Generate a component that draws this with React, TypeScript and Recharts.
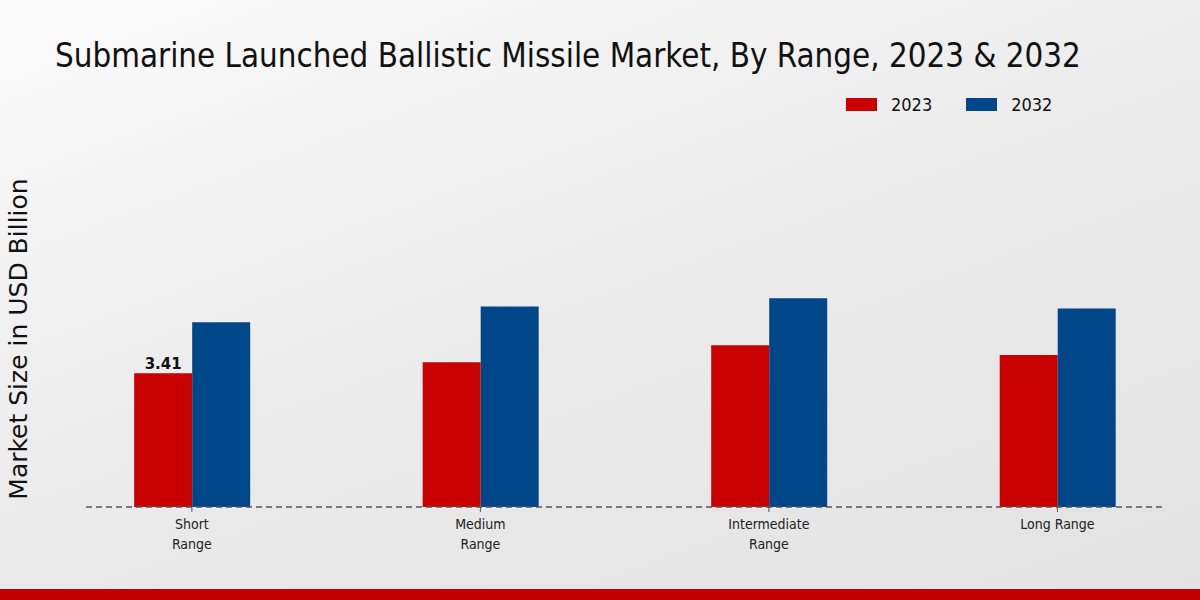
import React from "react";
import { BarChart, Bar, XAxis, YAxis, LabelList } from "recharts";

const categories = ["Short Range", "Medium Range", "Intermediate Range", "Long Range"];
const tickLines = [["Short", "Range"], ["Medium", "Range"], ["Intermediate", "Range"], ["Long Range"]];
const seriesNames = ["2023", "2032"];
const values2023 = [3.41, 3.69, 4.12, 3.87];
const values2032 = [4.71, 5.11, 5.32, 5.06];
const labels2023 = ["3.41", "", "", ""];

const data = categories.map((c, i) => ({
  idx: i,
  name: c,
  v2023: values2023[i],
  v2032: values2032[i],
  label: labels2023[i],
}));

const RED = "#c80000";
const BLUE = "#00478a";
const COND = "'DejaVu Sans Condensed', 'DejaVu Sans', sans-serif";

const Tick = (props: any) => {
  const { x, y, payload } = props;
  const lines = tickLines[payload.value] || [];
  return (
    <g transform={`translate(${x},${y})`}>
      <text textAnchor="middle" fill="#222" fontSize={14} fontFamily={COND}>
        {lines.map((l: string, i: number) => (
          <tspan key={i} x={0} dy={i === 0 ? 15 : 20}>{l}</tspan>
        ))}
      </text>
    </g>
  );
};

export default function App() {
  return (
    <div
      style={{
        position: "absolute",
        left: 0,
        top: 0,
        width: 1200,
        height: 600,
        overflow: "hidden",
        background: "linear-gradient(160deg, #fbfbfb 0%, #ececec 45%, #e2e2e2 100%)",
      }}
    >
      <div
        style={{
          position: "absolute",
          left: 55,
          top: 40,
          fontFamily: COND,
          fontSize: 32.8,
          color: "#111",
          whiteSpace: "nowrap",
          lineHeight: 1,
        }}
      >
        Submarine Launched Ballistic Missile Market, By Range, 2023 &amp; 2032
      </div>
      <div
        style={{
          position: "absolute",
          left: 846,
          top: 94,
          display: "flex",
          alignItems: "center",
          fontFamily: COND,
          fontSize: 18,
          color: "#111",
          whiteSpace: "nowrap",
        }}
      >
        <span style={{ display: "inline-block", width: 31, height: 13, background: RED, marginRight: 14 }} />
        <span style={{ marginRight: 34 }}>{seriesNames[0]}</span>
        <span style={{ display: "inline-block", width: 31, height: 13, background: BLUE, marginRight: 14 }} />
        <span>{seriesNames[1]}</span>
      </div>
      <div
        style={{
          position: "absolute",
          left: 18,
          top: 339,
          transform: "translate(-50%, -50%) rotate(-90deg)",
          fontFamily: "'DejaVu Sans', sans-serif",
          fontSize: 25,
          color: "#111",
          whiteSpace: "nowrap",
        }}
      >
        Market Size in USD Billion
      </div>
      <div style={{ position: "absolute", left: 0, bottom: 0, width: 1200, height: 11, background: "#c00000" }} />
      <BarChart
        width={1200}
        height={600}
        data={data}
        margin={{ top: 193, right: 37, bottom: 33, left: 86 }}
        barCategoryGap="30%"
        barGap={0}
        style={{ position: "absolute", left: 0, top: 0 }}
      >
        <XAxis
          dataKey="idx"
          type="number"
          domain={[-0.367, 3.366]}
          ticks={[0, 1, 2, 3]}
          interval={0}
          tick={<Tick />}
          tickSize={5}
          tickLine={{ stroke: "#555" }}
          axisLine={{ stroke: "#555", strokeDasharray: "6 4", strokeWidth: 1.5 }}
          height={60}
          allowDataOverflow
        />
        <YAxis hide domain={[0, 8]} />
        <Bar dataKey="v2023" name={seriesNames[0]} fill={RED} isAnimationActive={false}>
          <LabelList dataKey="label" position="top" fill="#111" fontSize={15} fontWeight="bold" fontFamily="'DejaVu Sans', sans-serif" offset={4} />
        </Bar>
        <Bar dataKey="v2032" name={seriesNames[1]} fill={BLUE} isAnimationActive={false} />
      </BarChart>
    </div>
  );
}
